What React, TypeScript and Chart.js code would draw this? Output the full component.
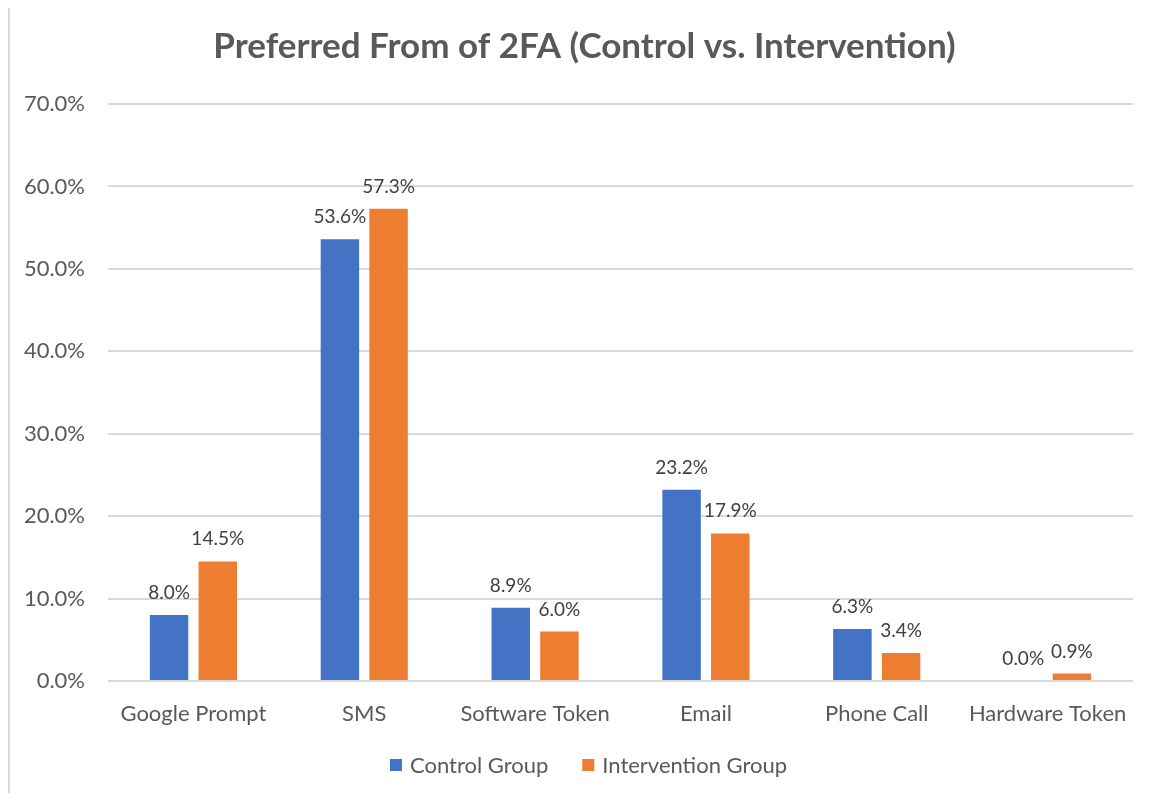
import React, { useEffect, useRef } from 'react';
import { Chart, registerables } from 'chart.js';

Chart.register(...registerables);

const categories = ['Google Prompt', 'SMS', 'Software Token', 'Email', 'Phone Call', 'Hardware Token'];
const controlGroup = [8.0, 53.6, 8.9, 23.2, 6.3, 0.0];
const interventionGroup = [14.5, 57.3, 6.0, 17.9, 3.4, 0.9];
const seriesNames = ['Control Group', 'Intervention Group'];
const seriesColors = ['#4472C4', '#ED7D31'];
const yMax = 70;
const yStep = 10;
const titleText = 'Preferred From of 2FA (Control vs. Intervention)';

const FONT = 'Lato, "Open Sans", sans-serif';

const dataLabels = {
  id: 'dataLabels',
  afterDatasetsDraw(chart: any) {
    const ctx = chart.ctx;
    ctx.save();
    ctx.font = `19px ${FONT}`;
    ctx.fillStyle = '#404040';
    ctx.textAlign = 'center';
    ctx.textBaseline = 'alphabetic';
    chart.data.datasets.forEach((ds: any, i: number) => {
      const meta = chart.getDatasetMeta(i);
      meta.data.forEach((bar: any, j: number) => {
        ctx.fillText(Number(ds.data[j]).toFixed(1) + '%', bar.x, bar.y - 16);
      });
    });
    ctx.restore();
  },
};

// Legend drawn below the axis (Excel-style spacing)
const bottomLegend = {
  id: 'bottomLegend',
  afterDraw(chart: any) {
    const ctx = chart.ctx;
    const box = 12;
    const gap = 8;
    const spacing = 34;
    const cy = 757;
    ctx.save();
    ctx.font = `22px ${FONT}`;
    ctx.textBaseline = 'middle';
    ctx.textAlign = 'left';
    const items = chart.data.datasets.map((ds: any) => ({
      text: ds.label,
      color: ds.backgroundColor,
      w: ctx.measureText(ds.label).width,
    }));
    const total = items.reduce((s: number, it: any) => s + box + gap + it.w, 0) + spacing * (items.length - 1);
    let x = chart.width / 2 + 4 - total / 2;
    items.forEach((it: any) => {
      ctx.fillStyle = it.color;
      ctx.fillRect(x, cy - box / 2, box, box);
      ctx.fillStyle = '#595959';
      ctx.fillText(it.text, x + box + gap, cy + 1);
      x += box + gap + it.w + spacing;
    });
    ctx.restore();
  },
};

export default function App() {
  const ref = useRef<HTMLCanvasElement | null>(null);

  useEffect(() => {
    if (!ref.current) return;
    const chart = new Chart(ref.current, {
      type: 'bar',
      data: {
        labels: categories,
        datasets: [
          {
            label: seriesNames[0],
            data: controlGroup,
            backgroundColor: seriesColors[0],
            categoryPercentage: 0.57,
            barPercentage: 0.79,
          },
          {
            label: seriesNames[1],
            data: interventionGroup,
            backgroundColor: seriesColors[1],
            categoryPercentage: 0.57,
            barPercentage: 0.79,
          },
        ],
      },
      options: {
        responsive: false,
        animation: false,
        devicePixelRatio: 1,
        layout: { padding: { left: 0, right: 0, top: 0, bottom: 0 } },
        plugins: {
          title: {
            display: true,
            text: titleText,
            color: '#595959',
            font: { family: FONT, size: 35, weight: 'bold' },
            padding: { top: 18, bottom: 36 },
          },
          legend: { display: false },
          tooltip: { enabled: false },
        },
        scales: {
          x: {
            grid: { display: false },
            border: { display: false },
            ticks: {
              color: '#595959',
              font: { family: FONT, size: 22 },
              padding: 12,
              maxRotation: 0,
              autoSkip: false,
            },
            afterFit(scale: any) {
              scale.height = 112;
            },
          },
          y: {
            min: 0,
            max: yMax,
            ticks: {
              stepSize: yStep,
              color: '#595959',
              font: { family: FONT, size: 22 },
              padding: 23,
              callback: (v: any) => Number(v).toFixed(1) + '%',
            },
            grid: { color: '#d9d9d9', lineWidth: 2, drawTicks: false },
            border: { display: false },
            afterFit(scale: any) {
              scale.width = 98;
            },
          },
          yRight: {
            type: 'linear',
            position: 'right',
            display: true,
            grid: { display: false },
            border: { display: false },
            ticks: { display: false },
            afterFit(scale: any) {
              scale.width = 26;
            },
          },
        },
      },
      plugins: [dataLabels, bottomLegend],
    } as any);
    return () => chart.destroy();
  }, []);

  return (
    <div
      style={{
        width: 1149,
        height: 785,
        marginTop: -2,
        borderTop: '2px solid #d9d9d9',
        borderLeft: '2px solid #d9d9d9',
        borderRight: '2px solid #d9d9d9',
        background: '#fff',
      }}
    >
      <canvas ref={ref} width={1149} height={785} style={{ display: 'block', width: 1149, height: 785 }} />
    </div>
  );
}
